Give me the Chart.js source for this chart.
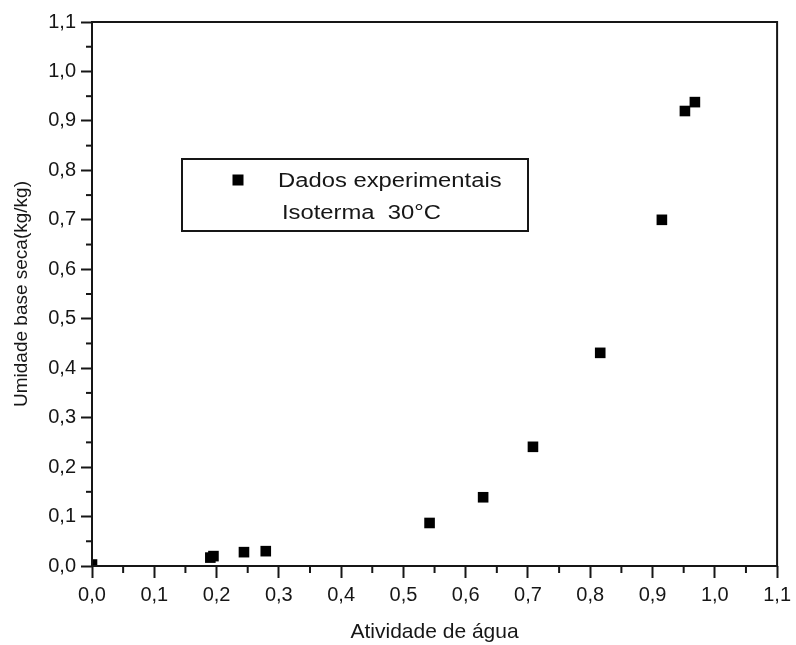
<!DOCTYPE html>
<html><head><meta charset="utf-8">
<script src="https://cdn.jsdelivr.net/npm/chart.js@4/dist/chart.umd.min.js"></script>
<style>html,body{margin:0;padding:0;background:#fff}#wrap{width:796px;height:645px}</style>
</head><body><div id="wrap"><canvas id="c" width="796" height="645"></canvas></div>
<script>
const aw = [0.0, 0.190, 0.195, 0.244, 0.279, 0.542, 0.628, 0.708, 0.816, 0.915, 0.952, 0.968];
const umidade = [0.003, 0.017, 0.020, 0.028, 0.030, 0.087, 0.139, 0.241, 0.431, 0.700, 0.920, 0.938];
const xTickLabels = ['0,0','0,1','0,2','0,3','0,4','0,5','0,6','0,7','0,8','0,9','1,0','1,1'];
const yTickLabels = ['0,0','0,1','0,2','0,3','0,4','0,5','0,6','0,7','0,8','0,9','1,0','1,1'];
const seriesName = 'Dados experimentais';
const legendLine2 = 'Isoterma  30\u00B0C';
const xTitle = 'Atividade de água';
const yTitle = 'Umidade base seca(kg/kg)';

const FONT = '"Liberation Sans", Arial, sans-serif';
const INK = '#161616';

const framePlugin = {
  id: 'frame',
  afterDatasetsDraw(chart) {
    const {ctx, chartArea: a, scales} = chart;
    ctx.save();
    ctx.strokeStyle = INK;
    ctx.lineWidth = 2;
    ctx.strokeRect(a.left, a.top, a.right - a.left, a.bottom - a.top);
    // minor ticks
    const xs = scales.x, ys = scales.y;
    for (let i = 0; i < xTickLabels.length - 1; i++) {
      const px = xs.getPixelForValue(i * 0.1 + 0.05);
      ctx.beginPath(); ctx.moveTo(px, a.bottom); ctx.lineTo(px, a.bottom + 7); ctx.stroke();
    }
    for (let i = 0; i < yTickLabels.length - 1; i++) {
      const py = ys.getPixelForValue(i * 0.1 + 0.05);
      ctx.beginPath(); ctx.moveTo(a.left, py); ctx.lineTo(a.left - 6, py); ctx.stroke();
    }
    // legend box
    const bx = 182, by = 159, bw = 346, bh = 72;
    ctx.strokeRect(bx, by, bw, bh);
    ctx.fillStyle = '#000';
    ctx.fillRect(238 - 5.5, 180 - 5.5, 11, 11);
    ctx.fillStyle = INK;
    ctx.font = '20px ' + FONT;
    ctx.textBaseline = 'middle';
    ctx.textAlign = 'left';
    ctx.save(); ctx.translate(278, 181); ctx.scale(1.19, 1); ctx.fillText(seriesName, 0, 0); ctx.restore();
    ctx.save(); ctx.translate(282, 213); ctx.scale(1.19, 1); ctx.fillText(legendLine2, 0, 0); ctx.restore();
    ctx.restore();
  }
};

new Chart(document.getElementById('c'), {
  type: 'scatter',
  data: {
    datasets: [{
      label: seriesName,
      data: aw.map((v, i) => ({x: v, y: umidade[i]})),
      pointStyle: 'rect',
      pointRadius: 7.5,
      pointHoverRadius: 7.5,
      backgroundColor: '#000',
      borderColor: '#000',
      borderWidth: 0,
      clip: 0
    }]
  },
  plugins: [framePlugin],
  options: {
    responsive: false,
    animation: false,
    layout: {padding: {top: 22, right: 16, left: 0, bottom: 0}},
    plugins: {legend: {display: false}, tooltip: {enabled: false}},
    scales: {
      x: {
        type: 'linear', min: 0, max: 1.1,
        afterFit(s) { s.height = 79; },
        ticks: {
          stepSize: 0.1, color: INK, padding: 5,
          font: {family: FONT, size: 20},
          callback: (v) => xTickLabels[Math.round(v * 10)]
        },
        grid: {drawOnChartArea: false, tickLength: 12, tickWidth: 2, tickColor: INK},
        border: {display: false},
        title: {display: true, text: xTitle, color: INK, font: {family: FONT, size: 21}, padding: {top: 0, bottom: 0}}
      },
      y: {
        type: 'linear', min: 0, max: 1.1,
        afterFit(s) { s.width = 92; },
        ticks: {
          stepSize: 0.1, color: INK, padding: 5,
          font: {family: FONT, size: 20},
          callback: (v) => yTickLabels[Math.round(v * 10)]
        },
        grid: {drawOnChartArea: false, tickLength: 11, tickWidth: 2, tickColor: INK},
        border: {display: false},
        title: {display: true, text: yTitle, color: INK, font: {family: FONT, size: 19}, padding: {top: 10, bottom: 0}}
      }
    }
  }
});
</script></body></html>
